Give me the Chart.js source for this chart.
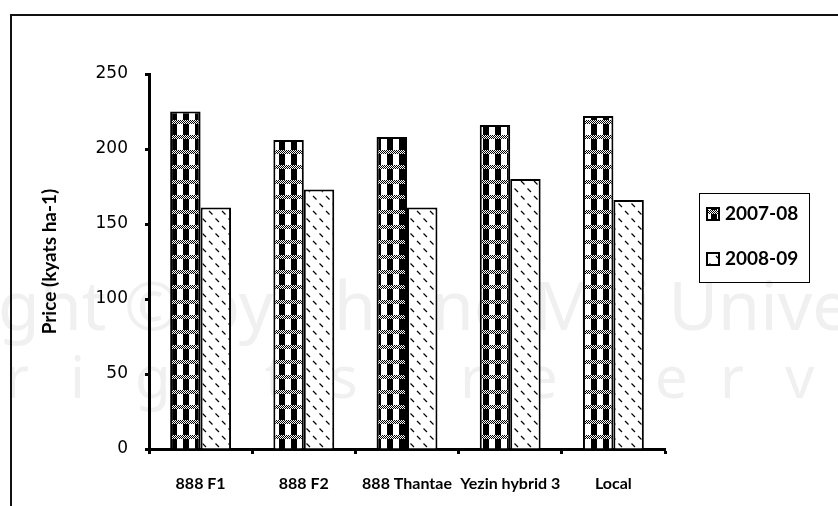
<!DOCTYPE html>
<html>
<head>
<meta charset="utf-8">
<script src="https://cdn.jsdelivr.net/npm/chart.js@4.4.0/dist/chart.umd.min.js"></script>
<style>
  body { margin: 0; background: #fff; }
  #wrap { width: 838px; height: 506px; }
</style>
</head>
<body>
<div id="wrap"><canvas id="myChart" width="838" height="506"></canvas></div>
<script>
const labels = ['888 F1', '888 F2', '888 Thantae', 'Yezin hybrid 3', 'Local'];
const price0708 = [225, 206, 208, 216, 222];
const price0809 = [161, 173, 161, 180, 166];
const yTicks = [0, 50, 100, 150, 200, 250];
const seasons = ['2007-08', '2008-09'];

// small repeating tiles for the two bar fills
function makePattern(w, h, draw) {
    const c = document.createElement('canvas');
    c.width = w; c.height = h;
    const g = c.getContext('2d');
    g.fillStyle = '#fff';
    g.fillRect(0, 0, w, h);
    draw(g);
    return g.createPattern(c, 'repeat');
}
const checker = makePattern(12, 15, g => {
    g.fillStyle = '#000';
    for (let y = 0; y < 4; y++)
        for (let x = 0; x < 12; x++)
            if ((x + y) % 2 === 0) g.fillRect(x, y, 1, 1);
    g.fillRect(3, 4, 6, 11);
});
const dashes = makePattern(13, 15, g => {
    g.strokeStyle = '#000';
    g.lineWidth = 1.2;
    g.beginPath();
    g.moveTo(1, 1); g.lineTo(4.5, 4.5);
    g.moveTo(7.5, 8.5); g.lineTo(11, 12);
    g.stroke();
});
const fills = [checker, dashes];

const backdrop = {
    id: 'backdrop',
    beforeDraw(chart) {
        const ctx = chart.ctx;
        ctx.save();
        ctx.fillStyle = '#fff';
        ctx.fillRect(0, 0, chart.width, chart.height);
        // faint watermark
        ctx.fillStyle = '#f0f0f0';
        ctx.textBaseline = 'alphabetic';
        ctx.font = '68px "Noto Sans"';
        const line = 'Copyright \u00a9 by Chiang Mai University';
        const skip = ctx.measureText('Copyri').width;
        ctx.fillText(line, -skip - 2, 330);
        ctx.font = '58px "Noto Sans"';
        const txt = 'All rights reserved';
        for (let i = 0; i < txt.length; i++) {
            ctx.fillText(txt[i], 5 + (i - 4) * 65, 398);
        }
        // frame
        ctx.strokeStyle = '#111';
        ctx.lineWidth = 2;
        ctx.beginPath();
        ctx.moveTo(11, 506); ctx.lineTo(11, 15); ctx.lineTo(838, 15);
        ctx.stroke();
        ctx.restore();
    },
    afterDraw(chart) {
        const ctx = chart.ctx;
        ctx.save();
        ctx.strokeStyle = '#000';
        ctx.lineWidth = 1;
        ctx.strokeRect(699.5, 193.5, 110, 89);
        ctx.font = 'bold 19px Lato';
        ctx.textBaseline = 'middle';
        ctx.fillStyle = '#000';
        const rows = [214, 259];
        chart.data.datasets.forEach((ds, i) => {
            ctx.fillStyle = ds.backgroundColor;
            ctx.fillRect(707, rows[i] - 6, 12, 12);
            ctx.lineWidth = 2;
            ctx.strokeRect(707, rows[i] - 6, 12, 12);
            ctx.fillStyle = '#000';
            ctx.fillText(ds.label, 725, rows[i]);
        });
        ctx.restore();
    }
};

const config = {
    type: 'bar',
    data: {
        labels: labels,
        datasets: [
            { label: seasons[0], data: price0708, backgroundColor: fills[0] },
            { label: seasons[1], data: price0809, backgroundColor: fills[1] }
        ]
    },
    options: {
        responsive: false,
        animation: false,
        layout: { padding: { left: 0, right: 173, top: 74, bottom: 0 } },
        datasets: {
            bar: {
                borderColor: '#000',
                borderWidth: 2,
                categoryPercentage: 0.59,
                barPercentage: 1.0
            }
        },
        plugins: {
            legend: { display: false },
            tooltip: { enabled: false }
        },
        scales: {
            x: {
                grid: { drawOnChartArea: false, tickLength: 5, tickWidth: 3, tickColor: '#000' },
                border: { color: '#000', width: 3 },
                ticks: {
                    color: '#000', padding: 20, maxRotation: 0, minRotation: 0, autoSkip: false,
                    font: { family: 'Lato', weight: 'bold', size: 16 }
                },
                afterFit(s) { s.height = 57; }
            },
            y: {
                min: 0,
                max: 250,
                afterBuildTicks(s) { s.ticks = yTicks.map(v => ({ value: v })); },
                grid: { drawOnChartArea: false, tickLength: 4, tickWidth: 3, tickColor: '#000' },
                border: { color: '#000', width: 3 },
                ticks: { color: '#000', padding: 17, font: { family: 'DejaVu Sans', size: 17 } },
                title: {
                    display: true,
                    text: 'Price (kyats ha-1)',
                    color: '#000',
                    font: { family: 'Lato', weight: 'bold', size: 19 },
                    padding: { top: 38, bottom: 0 }
                },
                afterFit(s) { s.width = 149; }
            }
        }
    },
    plugins: [backdrop]
};

const myChart = new Chart(document.getElementById('myChart'), config);
</script>
</body>
</html>
